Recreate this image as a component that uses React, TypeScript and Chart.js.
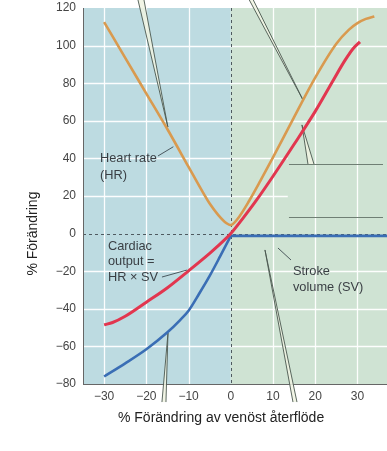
import React, { useEffect, useRef } from "react";
import { Chart, registerables } from "chart.js";

Chart.register(...registerables);

// ---- Data ----
const xTicks = [-30, -20, -10, 0, 10, 20, 30];
const yTicks = [-80, -60, -40, -20, 0, 20, 40, 60, 80, 100, 120];

// Heart rate (HR)
const hrX = [-30, -25, -20, -15, -10, -7, -5, -3, -1, 0, 1.5, 4.5, 7, 10, 15, 20, 25, 28, 30, 32, 34];
const hrY = [112.5, 93.5, 74.5, 55.5, 35.5, 23.5, 16, 10, 5.5, 4.5, 7.5, 18, 28, 40.5, 62, 83, 101, 108.5, 112, 114.2, 115.5];

// Cardiac output (CO = HR x SV)
const coX = [-30, -28, -25, -20, -15, -10, -5, -2.5, 0, 3, 6, 10, 15, 20, 24, 27, 29, 30.6];
const coY = [-48.5, -47.3, -44, -36.5, -28.8, -19.8, -10.5, -5.5, 0, 8.5, 17.5, 30.5, 47.5, 65, 80.5, 92, 98.5, 102];

// Stroke volume (SV): falling part and plateau
const svX = [-30, -25, -20, -15, -12, -10, -7.5, -5, -2.5, 0];
const svY = [-76, -69, -61.5, -52.5, -46, -41, -32, -22.5, -12, -1.2];
const svFlatX = [0, 37];
const svFlatY = [-1.2, -1.2];

// Annotation texts
const hrLabel = ["Heart rate", "(HR)"];
const coLabel = ["Cardiac", "output =", "HR \u00d7 SV"];
const svLabel = ["Stroke", "volume (SV)"];
const xTitle = "% F\u00f6r\u00e4ndring av ven\u00f6st \u00e5terfl\u00f6de";
const yTitle = "% F\u00f6r\u00e4ndring";

const FONT = "'Liberation Sans', Arial, Helvetica, sans-serif";
const BLUE_BG = "#bddbe1";
const GREEN_BG = "#cfe3d3";

const fmt = (v: number) => (v < 0 ? "\u2212" + Math.abs(v) : String(v));

const toPts = (xs: number[], ys: number[]) => xs.map((x, i) => ({ x, y: ys[i] }));

// callout wedges in data units: [tipA, tipB, apex]
const wedges: number[][][] = [
  [[-21.98, 124.3], [-20.56, 124.3], [-14.9, 56.7]],
  [[4.38, 124.3], [5.33, 124.3], [17.1, 71.1]],
  [[18.28, 37.0], [19.7, 37.0], [16.86, 57.8]],
  [[-16.3, -89.6], [-15.35, -89.6], [-14.87, -52.9]],
  [[14.73, -89.6], [15.68, -89.6], [8.1, -8.7]],
];
const hLines: number[][] = [
  [13.78, 36.05, 37.0],
  [13.78, 36.05, 8.83],
];
// short leader lines for labels
const leaders: number[][] = [
  [-17.24, 41.3, -13.6, 46.2],
  [-16.3, -23.1, -10.4, -19.4],
  [11.18, -7.66, 14.26, -14.04],
];

const bgPlugin = {
  id: "bg",
  beforeDraw(chart: any) {
    const { ctx, chartArea, scales } = chart;
    const { left, right, top, bottom } = chartArea;
    const x = scales.x;
    const y = scales.y;
    const x0 = x.getPixelForValue(0);
    ctx.save();
    ctx.fillStyle = "#ffffff";
    ctx.fillRect(0, 0, chart.width, chart.height);
    ctx.fillStyle = BLUE_BG;
    ctx.fillRect(left, top, x0 - left, bottom - top);
    ctx.fillStyle = GREEN_BG;
    ctx.fillRect(x0, top, right - x0, bottom - top);

    // grid
    ctx.strokeStyle = "rgba(255,255,255,0.95)";
    ctx.lineWidth = 1.3;
    const gapStart = x.getPixelForValue(13.5);
    for (const v of yTicks) {
      if (v === 0 || v === -80 || v === 120) continue;
      const py = Math.round(y.getPixelForValue(v)) + 0.5;
      const endX = v === 20 || v === 40 ? gapStart : right;
      ctx.beginPath();
      ctx.moveTo(left, py);
      ctx.lineTo(endX, py);
      ctx.stroke();
    }
    for (const v of xTicks) {
      if (v === 0) continue;
      const px = Math.round(x.getPixelForValue(v)) + 0.5;
      ctx.beginPath();
      ctx.moveTo(px, top);
      ctx.lineTo(px, bottom);
      ctx.stroke();
    }

    // dashed zero lines
    ctx.strokeStyle = "#4f5a60";
    ctx.lineWidth = 1;
    ctx.setLineDash([3, 3]);
    const py0 = Math.round(y.getPixelForValue(0)) + 0.5;
    ctx.beginPath();
    ctx.moveTo(left, py0);
    ctx.lineTo(right, py0);
    ctx.stroke();
    const px0 = Math.round(x0) + 0.5;
    ctx.beginPath();
    ctx.moveTo(px0, top);
    ctx.lineTo(px0, bottom);
    ctx.stroke();
    ctx.restore();
  },
  beforeDatasetsDraw(chart: any) {
    const { ctx, scales } = chart;
    const x = scales.x;
    const y = scales.y;
    const P = (p: number[]) => [x.getPixelForValue(p[0]), y.getPixelForValue(p[1])];
    ctx.save();
    ctx.lineWidth = 0.9;
    ctx.strokeStyle = "#4a574f";
    ctx.fillStyle = "rgba(240,243,226,0.85)";
    for (const w of wedges) {
      const a = P(w[0]);
      const b = P(w[1]);
      const c = P(w[2]);
      ctx.beginPath();
      ctx.moveTo(a[0], a[1]);
      ctx.lineTo(c[0], c[1]);
      ctx.lineTo(b[0], b[1]);
      ctx.closePath();
      ctx.fill();
      ctx.beginPath();
      ctx.moveTo(a[0], a[1]);
      ctx.lineTo(c[0], c[1]);
      ctx.lineTo(b[0], b[1]);
      ctx.stroke();
    }
    ctx.strokeStyle = "#6f7f74";
    ctx.lineWidth = 1;
    for (const h of hLines) {
      const py = Math.round(y.getPixelForValue(h[2])) + 0.5;
      ctx.beginPath();
      ctx.moveTo(x.getPixelForValue(h[0]), py);
      ctx.lineTo(x.getPixelForValue(h[1]), py);
      ctx.stroke();
    }
    ctx.restore();
  },
  afterDatasetsDraw(chart: any) {
    const { ctx, scales } = chart;
    const x = scales.x;
    const y = scales.y;
    ctx.save();
    ctx.strokeStyle = "#3d4a50";
    ctx.lineWidth = 0.9;
    for (const l of leaders) {
      ctx.beginPath();
      ctx.moveTo(x.getPixelForValue(l[0]), y.getPixelForValue(l[1]));
      ctx.lineTo(x.getPixelForValue(l[2]), y.getPixelForValue(l[3]));
      ctx.stroke();
    }
    ctx.fillStyle = "#3a3f44";
    ctx.font = "12.8px " + FONT;
    ctx.textAlign = "left";
    ctx.textBaseline = "middle";
    const drawLabel = (lines: string[], dx: number, dy: number, lh: number) => {
      const px = x.getPixelForValue(dx);
      const py = y.getPixelForValue(dy);
      lines.forEach((t, i) => ctx.fillText(t, px, py + i * lh));
    };
    drawLabel(hrLabel, -30.97, 40.2, 17);
    drawLabel(coLabel, -29.1, -6.6, 15.5);
    drawLabel(svLabel, 14.73, -19.9, 16);
    ctx.restore();
  },
  afterDraw(chart: any) {
    const { ctx, scales } = chart;
    const x = scales.x;
    const y = scales.y;
    ctx.save();
    ctx.fillStyle = "#222";
    ctx.font = "14px " + FONT;
    ctx.textAlign = "center";
    ctx.textBaseline = "middle";
    ctx.fillText(xTitle, x.getPixelForValue(-2.3), 418);
    ctx.translate(33, y.getPixelForValue(0));
    ctx.rotate(-Math.PI / 2);
    ctx.fillText(yTitle, 0, 0);
    ctx.restore();
  },
};

export default function App() {
  const ref = useRef<HTMLCanvasElement | null>(null);
  useEffect(() => {
    if (!ref.current) return;
    const line = (label: string, xs: number[], ys: number[], color: string, width: number, order: number) => ({
      label,
      data: toPts(xs, ys),
      borderColor: color,
      borderWidth: width,
      pointRadius: 0,
      cubicInterpolationMode: "monotone",
      fill: false,
      order,
    });
    const chart = new Chart(ref.current, {
      type: "line",
      data: {
        datasets: [
          line("Cardiac output", coX, coY, "#e2364f", 3, 0),
          line("Stroke volume", svX, svY, "#3a6eb5", 2.6, 1),
          line("Stroke volume (plateau)", svFlatX, svFlatY, "#3a6eb5", 2.6, 1),
          line("Heart rate", hrX, hrY, "#d99a4f", 2.6, 2),
        ],
      } as any,
      options: {
        responsive: false,
        animation: false,
        layout: { padding: { top: 8, left: 0, right: 0, bottom: 0 } },
        plugins: { legend: { display: false }, tooltip: { enabled: false } },
        scales: {
          x: {
            type: "linear",
            min: -35,
            max: 37,
            afterBuildTicks: (s: any) => {
              s.ticks = xTicks.map((v) => ({ value: v }));
            },
            afterFit: (s: any) => {
              s.height = 67;
              s.paddingLeft = 0;
              s.paddingRight = 0;
            },
            grid: { display: false, drawTicks: false },
            border: { display: true, color: "#666", width: 1 },
            ticks: {
              color: "#444",
              font: { family: FONT, size: 12 },
              padding: 5,
              maxRotation: 0,
              autoSkip: false,
              callback: (v: any) => fmt(Number(v)),
            },
          },
          y: {
            type: "linear",
            min: -80,
            max: 120,
            afterBuildTicks: (s: any) => {
              s.ticks = yTicks.map((v) => ({ value: v }));
            },
            afterFit: (s: any) => {
              s.width = 83;
              s.paddingTop = 0;
              s.paddingBottom = 0;
            },
            grid: { display: false, drawTicks: false },
            border: { display: true, color: "#666", width: 1 },
            ticks: {
              color: "#444",
              font: { family: FONT, size: 12 },
              padding: 7,
              autoSkip: false,
              callback: (v: any) => fmt(Number(v)),
            },
          },
        },
      } as any,
      plugins: [bgPlugin],
    });
    return () => chart.destroy();
  }, []);
  return (
    <div style={{ position: "absolute", left: 0, top: 0, width: 387, height: 451, background: "#fff" }}>
      <canvas ref={ref} width={387} height={451} style={{ width: 387, height: 451, display: "block" }} />
    </div>
  );
}
